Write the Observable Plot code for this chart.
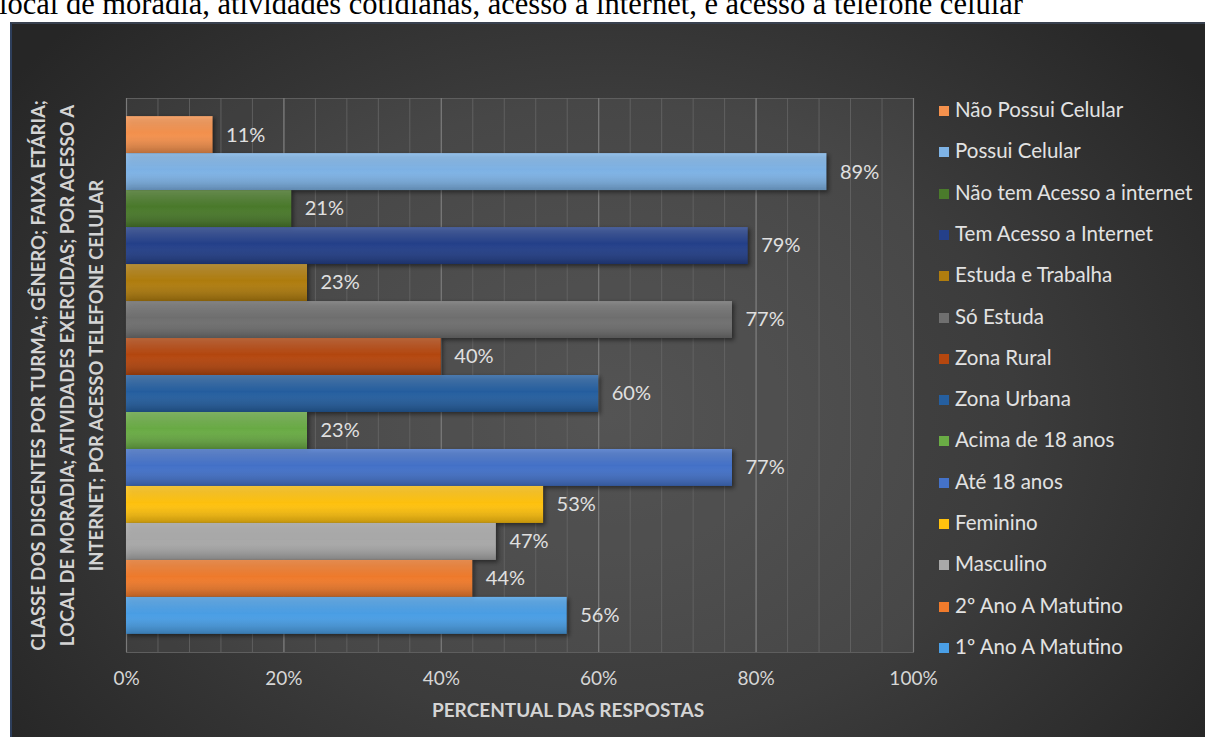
<!DOCTYPE html>
<html>
<head>
<meta charset="utf-8">
<script src="https://cdn.jsdelivr.net/npm/d3@7"></script>
<script src="https://cdn.jsdelivr.net/npm/@observablehq/plot@0.6"></script>
<style>
  html, body { margin: 0; padding: 0; background: #ffffff; width: 1205px; height: 737px; overflow: hidden; }
  #caption { position: absolute; left: -1px; top: -11px; font-family: "Liberation Serif", "Times New Roman", serif; font-size: 30.5px; line-height: 30px; color: #000; white-space: nowrap; }
  #chartbox { position: absolute; left: 10px; top: 22px; width: 1195px; height: 715px;
    background: radial-gradient(ellipse 62% 80% at 50% 55%, #4a4a4a 0%, #3c3c3c 55%, #262626 100%);
    border-left: 2px solid #2e3f5c; border-top: 2px solid #39414f; box-sizing: border-box; }
  #plotwrap { position: absolute; left: 0; top: 0; }
  #legend { position: absolute; left: 0; top: 0; font-family: Lato, "Open Sans", sans-serif; font-size: 20.5px; color: #e2e2e2; }
  .lg { position: absolute; white-space: nowrap; height: 24px; line-height: 24px; }
  .lg span.sw { display: inline-block; width: 10px; height: 10px; margin-right: 6px; vertical-align: 1px; }
</style>
</head>
<body>
<div id="caption">local de moradia, atividades cotidianas, acesso a internet, e acesso a telefone celular</div>
<div id="chartbox"></div>
<div id="plotwrap"></div>
<div id="legend"></div>
<script>
const categories = ["Não Possui Celular", "Possui Celular", "Não tem Acesso a internet", "Tem Acesso a Internet", "Estuda e Trabalha", "Só Estuda", "Zona Rural", "Zona Urbana", "Acima de 18 anos", "Até 18 anos", "Feminino", "Masculino", "2º Ano A Matutino", "1º Ano A Matutino"];
const values = [0.11, 0.89, 0.21, 0.79, 0.23, 0.77, 0.40, 0.60, 0.23, 0.77, 0.53, 0.47, 0.44, 0.56];
const colors = ["#f4914d", "#7eb3e6", "#4a7a2b", "#24408a", "#b07d0e", "#707070", "#b5470f", "#255fa0", "#6aac45", "#4472c9", "#ffc20e", "#a9a9a9", "#f07b2c", "#4a9fe6"];
const xTickValues = [0, 0.2, 0.4, 0.6, 0.8, 1.0];
const minorTickValues = [0, 0.04, 0.08, 0.12, 0.16, 0.2, 0.24, 0.28, 0.32, 0.36, 0.4, 0.44, 0.48, 0.52, 0.56, 0.6, 0.64, 0.68, 0.72, 0.76, 0.8, 0.84, 0.88, 0.92, 0.96, 1.0];
const yTitle = "CLASSE DOS DISCENTES POR TURMA,; GÊNERO; FAIXA ETÁRIA;\nLOCAL DE MORADIA; ATIVIDADES EXERCIDAS; POR ACESSO A\nINTERNET; POR ACESSO TELEFONE CELULAR";
const xTitle = "PERCENTUAL DAS RESPOSTAS";

const data = categories.map((c, i) => ({label: c, value: values[i]}));

const W = 1205, H = 737;
const plot = Plot.plot({
  width: W,
  height: H,
  marginLeft: 126,
  marginRight: W - 913,
  marginTop: 98,
  marginBottom: H - 652,
  style: {background: "transparent", color: "#d9d9d9", fontFamily: "Lato, 'Open Sans', sans-serif", fontSize: "18px", overflow: "visible"},
  x: {domain: [0, 1], axis: null},
  y: {domain: categories, axis: null, paddingInner: 0, paddingOuter: 0.49, round: false},
  color: {domain: categories, range: colors},
  marks: [
    Plot.frame({fill: "#ffffff", fillOpacity: 0.06, stroke: "#5e5e5e", strokeWidth: 1}),
    Plot.ruleX(minorTickValues, {stroke: "#666666", strokeWidth: 1, strokeOpacity: 0.8}),
    Plot.ruleX(xTickValues, {stroke: "#7a7a7a", strokeWidth: 1.2}),
    Plot.barX(data, {x: "value", y: "label", fill: "label"}),
    Plot.barX(data, {x: "value", y: "label", fill: "url(#barShade)"}),
    Plot.text(data, {x: "value", y: "label", text: d => Math.round(d.value * 100) + "%", textAnchor: "start", dx: 13, fill: "#e0e0e0", fontSize: 20}),
    Plot.axisX(xTickValues, {tickFormat: d => Math.round(d * 100) + "%", tickSize: 0, tickPadding: 19, fontSize: 19, fill: "#d6d6d6", label: null}),
    Plot.text([xTitle], {frameAnchor: "bottom", dx: 48, dy: 64, fontWeight: "bold", fontSize: 19, fill: "#d4d4d4"}),
    Plot.text([yTitle], {frameAnchor: "left", textAnchor: "middle", rotate: -90, dx: -62, lineHeight: 1.58, fontWeight: "bold", fontSize: 18.5, fill: "#d4d4d4"})
  ]
});

// gradient shading for bars
const svg = d3.select(plot.tagName === "svg" ? plot : plot.querySelector("svg"));
const defs = svg.insert("defs", ":first-child");
const g = defs.append("linearGradient").attr("id", "barShade").attr("x1", 0).attr("y1", 0).attr("x2", 0).attr("y2", 1);
g.append("stop").attr("offset", "0%").attr("stop-color", "#ffffff").attr("stop-opacity", 0.18);
g.append("stop").attr("offset", "45%").attr("stop-color", "#ffffff").attr("stop-opacity", 0.0);
g.append("stop").attr("offset", "100%").attr("stop-color", "#000000").attr("stop-opacity", 0.18);
svg.selectAll('g[aria-label="bar"]').attr("style", "filter: drop-shadow(2px 2px 2px rgba(0,0,0,0.45))");

document.getElementById("plotwrap").appendChild(plot);

// legend
const legend = document.getElementById("legend");
categories.forEach((c, i) => {
  const div = document.createElement("div");
  div.className = "lg";
  div.style.left = "939px";
  const top0 = 109, step = (646 - 109) / 13;
  div.style.top = (top0 + i * step - 12) + "px";
  const sw = document.createElement("span");
  sw.className = "sw";
  sw.style.background = colors[i];
  div.appendChild(sw);
  div.appendChild(document.createTextNode(c));
  legend.appendChild(div);
});
</script>
</body>
</html>
